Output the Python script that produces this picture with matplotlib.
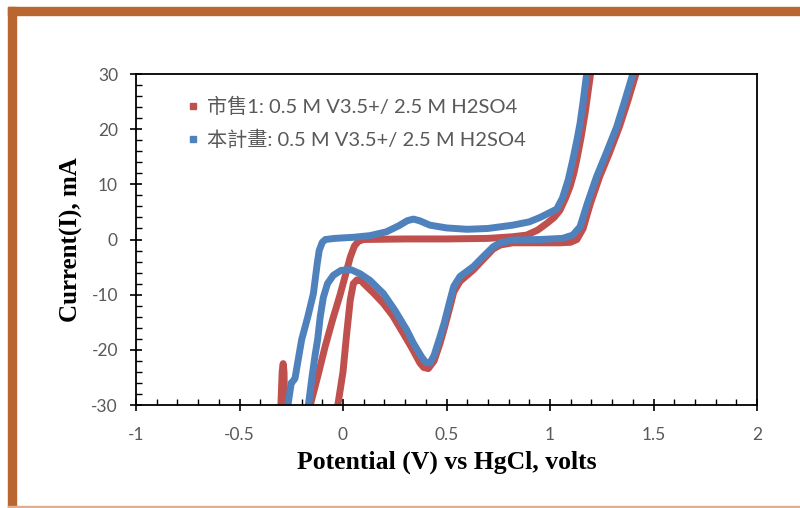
import matplotlib.pyplot as plt
from matplotlib.lines import Line2D
from matplotlib.patches import Rectangle
from matplotlib.ticker import MultipleLocator

plt.rcParams['axes.unicode_minus'] = False

# 市售1 (red) -- CV curve pieces, potential (V) / current (mA)
red_spike_v = [-0.300, -0.294, -0.289, -0.285, -0.282]
red_spike_i = [-30, -24, -22.5, -24, -30]

red_anodic_v = [-0.158, -0.12, -0.087, -0.05, -0.014, 0.015, 0.035, 0.055, 0.075, 0.1,
                0.3, 0.5, 0.7, 0.82, 0.887, 0.94, 0.984, 1.02, 1.048, 1.075, 1.097,
                1.115, 1.129, 1.15, 1.17, 1.196]
red_anodic_i = [-30, -24.5, -19.5, -14.5, -10, -6, -3.2, -1.2, -0.3, 0.0,
                0.1, 0.1, 0.2, 0.5, 0.8, 1.7, 2.9, 4.0, 5.3, 7.5, 9.6,
                12, 14.4, 18.5, 23, 30]

red_cath_v = [1.415, 1.375, 1.335, 1.285, 1.24, 1.195, 1.16, 1.13, 1.1, 1.05, 0.95, 0.82,
              0.76, 0.726, 0.68, 0.63, 0.565, 0.535, 0.517, 0.49, 0.469, 0.44, 0.412,
              0.39, 0.372, 0.33, 0.291, 0.24, 0.195, 0.15, 0.114, 0.085, 0.068, 0.05,
              0.035, 0.018, 0.0, -0.025]
red_cath_i = [30, 25, 20.4, 15.5, 11.4, 6.5, 2.0, 0.0, -0.5, -0.6, -0.6, -0.6,
              -1.0, -1.7, -3.5, -5.5, -7.6, -9.5, -12.2, -16, -18.8, -22, -23.4,
              -23.2, -22.4, -19.5, -17, -13.8, -11.6, -9.8, -8.5, -7.4, -7.3, -8.0,
              -11, -17, -24, -30]

# 本計畫 (blue)
blue_anodic_v = [-0.266, -0.25, -0.24, -0.232, -0.2, -0.17, -0.143, -0.125, -0.115, -0.1,
                 -0.085, -0.04, 0.05, 0.13, 0.21, 0.27, 0.31, 0.34, 0.37, 0.42, 0.5,
                 0.6, 0.7, 0.82, 0.9, 0.952, 0.984, 1.032, 1.06, 1.088, 1.11, 1.13,
                 1.145, 1.16, 1.177]
blue_anodic_i = [-30, -26, -25.6, -25.2, -18.2, -14, -9.8, -4.5, -2, -0.5,
                 0.0, 0.2, 0.4, 0.7, 1.4, 2.5, 3.4, 3.7, 3.4, 2.6, 2.1,
                 1.85, 2.0, 2.6, 3.2, 4.0, 4.6, 5.5, 7.5, 10.8, 14.4, 18,
                 21, 25, 30]

blue_cath_v = [1.40, 1.36, 1.322, 1.27, 1.225, 1.18, 1.145, 1.11, 1.06, 0.95, 0.82,
               0.76, 0.726, 0.68, 0.63, 0.565, 0.535, 0.517, 0.49, 0.469, 0.44, 0.42,
               0.40, 0.38, 0.34, 0.308, 0.25, 0.195, 0.13, 0.082, 0.04, 0.018, -0.01,
               -0.047, -0.075, -0.095, -0.11, -0.122, -0.135, -0.15, -0.167]
blue_cath_i = [30, 25, 20.4, 15.5, 11.4, 6.5, 2.3, 0.8, 0.2, 0.0, -0.1,
               -0.6, -1.3, -3, -4.9, -6.7, -8.5, -11, -15, -17.6, -21, -22.4,
               -22.3, -21.3, -18.8, -16.4, -12.8, -9.8, -7.4, -6.2, -5.5, -5.5, -5.6,
               -6.5, -8, -10.5, -14, -18, -21, -25, -30]

labels = ['市售1: 0.5 M V3.5+/ 2.5 M H2SO4', '本計畫: 0.5 M V3.5+/ 2.5 M H2SO4']
red = '#C0504D'
blue = '#4F81BD'

fig = plt.figure(figsize=(8, 5.08), dpi=100)

# orange frame around the picture
fig.patches.append(Rectangle((8/800, 0), 8/800, 1 - 7/508, transform=fig.transFigure,
                             color='#BA6630', zorder=0))
fig.patches.append(Rectangle((8/800, 1 - 15/508), 1, 8/508, transform=fig.transFigure,
                             color='#BA6630', zorder=0))
fig.patches.append(Rectangle((8/800, 0), 1, 2/508, transform=fig.transFigure,
                             color='#DDAE90', zorder=0))

ax = fig.add_axes([136/800, 1 - 405/508, 621/800, 331/508])

kw = dict(lw=5, solid_capstyle='round', solid_joinstyle='round')
ax.plot(red_spike_v, red_spike_i, color=red, **kw)
ax.plot(red_anodic_v, red_anodic_i, color=red, **kw)
ax.plot(red_cath_v, red_cath_i, color=red, **kw)
ax.plot(blue_anodic_v, blue_anodic_i, color=blue, **kw)
ax.plot(blue_cath_v, blue_cath_i, color=blue, **kw)

ax.set_xlim(-1, 2)
ax.set_ylim(-30, 30)
ax.xaxis.set_major_locator(MultipleLocator(0.5))
ax.xaxis.set_minor_locator(MultipleLocator(0.1))
ax.yaxis.set_major_locator(MultipleLocator(10))
ax.yaxis.set_minor_locator(MultipleLocator(2))
ax.set_xticks([-1, -0.5, 0, 0.5, 1, 1.5, 2], ['-1', '-0.5', '0', '0.5', '1', '1.5', '2'])
ax.tick_params(which='major', direction='inout', length=8, width=1.2, color='black',
               labelsize=12.5, labelcolor='#595959')
ax.tick_params(which='minor', direction='in', length=4, width=1, color='black')
ax.tick_params(axis='x', which='major', pad=12)
ax.tick_params(axis='y', which='major', pad=9)
for lab in ax.get_xticklabels() + ax.get_yticklabels():
    lab.set_family('Lato')
for s in ax.spines.values():
    s.set_linewidth(1.3)

ax.set_xlabel('Potential (V) vs HgCl, volts', family='Liberation Serif', fontweight='bold',
              fontsize=18.5, labelpad=5)
ax.set_ylabel('Current(I), mA', family='Liberation Serif', fontweight='bold',
              fontsize=18, labelpad=6)

handles = [Line2D([], [], ls='none', marker='s', ms=4.5, color=red),
           Line2D([], [], ls='none', marker='s', ms=4.5, color=blue)]
leg = ax.legend(handles, labels, loc='upper left', bbox_to_anchor=(0.055, 0.985),
                frameon=False, handlelength=0.5, handletextpad=0.45, labelspacing=0.65,
                prop={'family': ['Lato', 'Noto Sans CJK TC'], 'size': 14.5})
for t in leg.get_texts():
    t.set_color('#595959')

fig.savefig('out.png', dpi=100)
